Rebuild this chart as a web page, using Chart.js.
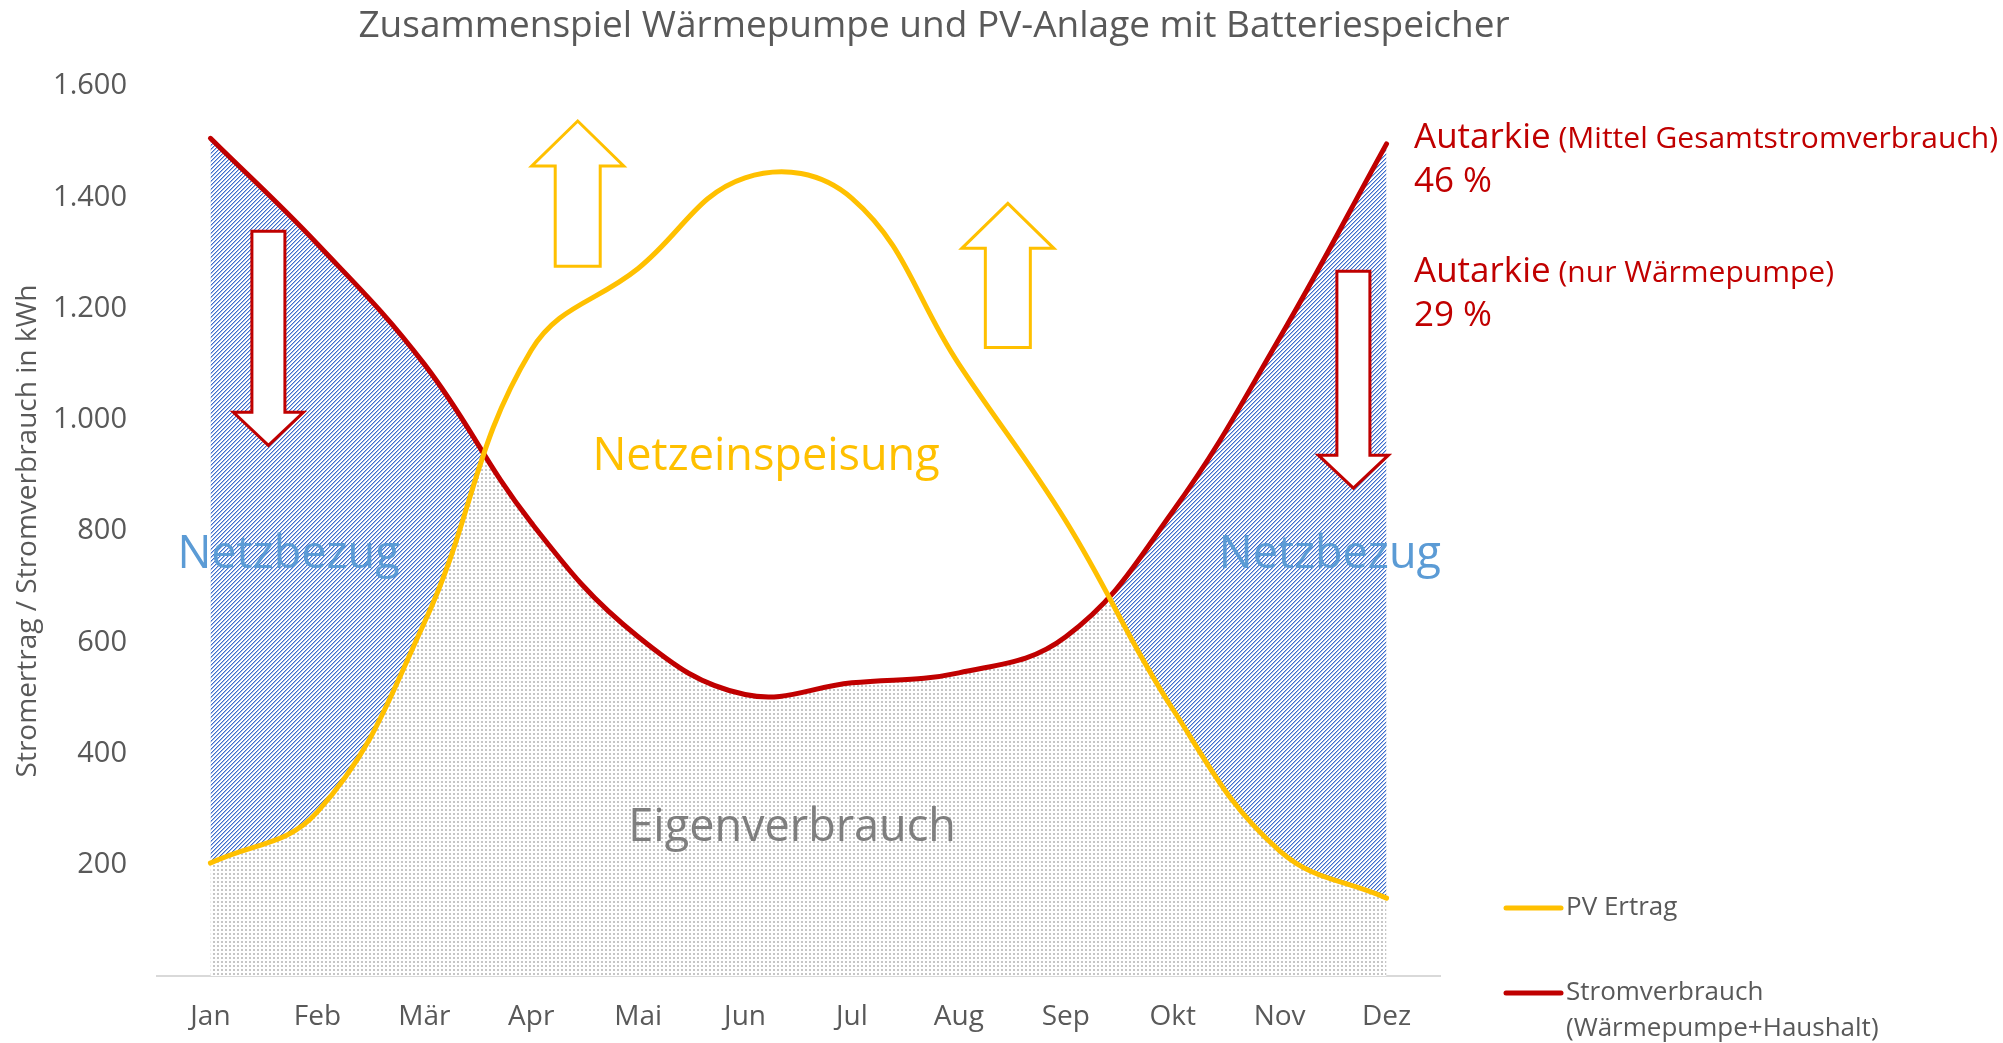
<!DOCTYPE html>
<html><head><meta charset="utf-8">
<script src="https://cdn.jsdelivr.net/npm/chart.js@4.4.1/dist/chart.umd.min.js"></script>
<style>html,body{margin:0;padding:0;background:#fff;overflow:hidden}#wrap{width:2003px;height:1043px}</style>
</head><body><div id="wrap"><canvas id="c" width="2003" height="1043"></canvas></div>
<script>
// ---- data ----
const months = ['Jan','Feb','Mär','Apr','Mai','Jun','Jul','Aug','Sep','Okt','Nov','Dez'];
const pvErtrag = [203, 295, 635, 1125, 1272, 1435, 1398, 1100, 818, 480, 225, 140];
const stromverbrauch = [1506, 1316, 1100, 815, 610, 506, 527, 545, 610, 835, 1147, 1496];
const seriesLabels = ['PV Ertrag', 'Stromverbrauch (Wärmepumpe+Haushalt)'];
const legendLines = [['PV Ertrag'], ['Stromverbrauch', '(Wärmepumpe+Haushalt)']];
const titleText = 'Zusammenspiel Wärmepumpe und PV-Anlage mit Batteriespeicher';
const yAxisTitle = 'Stromertrag / Stromverbrauch in kWh';
const yMin = 0, yMax = 1600, yStep = 200;
// area labels: [text, category position, value, colour]
const areaLabels = [
  ['Netzeinspeisung', 5.196, 933, '#FFC000'],
  ['Eigenverbrauch', 5.44, 266, '#7F7F7F'],
  ['Netzbezug', 0.73, 757, '#5B9BD5'],
  ['Netzbezug', 10.47, 757, '#5B9BD5']
];
// arrows: [category position, base value, tip value, colour]
const arrows = [
  [0.542, 1339, 954, '#C00000'],
  [10.69, 1267, 877, '#C00000'],
  [3.435, 1276, 1537, '#FFC000'],
  [7.458, 1130, 1389, '#FFC000']
];
const autarkie = [
  ['Autarkie', ' (Mittel Gesamtstromverbrauch)', '46 %'],
  ['Autarkie', ' (nur Wärmepumpe)', '29 %']
];

const FONT = "'Open Sans', sans-serif";
const YELLOW = '#FFC000', RED = '#C00000', GREY = '#595959';

const canvas = document.getElementById('c');
const ctx0 = canvas.getContext('2d');

function makePattern(size, draw) {
  const c = document.createElement('canvas');
  c.width = size; c.height = size;
  const g = c.getContext('2d');
  draw(g);
  return ctx0.createPattern(c, 'repeat');
}
const hatch = makePattern(4, g => {
  g.fillStyle = '#ffffff'; g.fillRect(0, 0, 4, 4);
  for (let k = 0; k < 4; k++) {
    g.fillStyle = '#3E6DCB'; g.fillRect(k, 3 - k, 1, 1);
    g.fillStyle = '#A3BBEA'; g.fillRect(k, (4 - k) % 4, 1, 1);
  }
});
const dots = makePattern(4, g => {
  g.fillStyle = '#ffffff'; g.fillRect(0, 0, 4, 4);
  g.fillStyle = '#c6c6c6'; g.fillRect(1, 1, 2, 2);
});

function drawArrow(ctx, cx, yBase, yTip, shaftW, headW, headL, color) {
  const dir = Math.sign(yTip - yBase);
  const yHead = yTip - dir * headL;
  ctx.beginPath();
  ctx.moveTo(cx - shaftW / 2, yBase);
  ctx.lineTo(cx + shaftW / 2, yBase);
  ctx.lineTo(cx + shaftW / 2, yHead);
  ctx.lineTo(cx + headW / 2, yHead);
  ctx.lineTo(cx, yTip);
  ctx.lineTo(cx - headW / 2, yHead);
  ctx.lineTo(cx - shaftW / 2, yHead);
  ctx.closePath();
  ctx.fillStyle = '#ffffff';
  ctx.fill();
  ctx.lineWidth = 3;
  ctx.lineJoin = 'miter';
  ctx.strokeStyle = color;
  ctx.stroke();
}

const overlay = {
  id: 'overlay',
  afterDatasetsDraw(chart) {
    const { ctx, scales: { x, y } } = chart;
    const step = x.getPixelForValue(1) - x.getPixelForValue(0);
    const px = i => x.getPixelForValue(0) + i * step;
    ctx.save();
    arrows.forEach(([pos, from, to, col]) => {
      const up = to > from;
      if (up) drawArrow(ctx, px(pos), y.getPixelForValue(from), y.getPixelForValue(to), 45, 92, 45, col);
      else drawArrow(ctx, px(pos), y.getPixelForValue(from), y.getPixelForValue(to), 33, 70, 33, col);
    });
    ctx.textAlign = 'center';
    ctx.textBaseline = 'middle';
    ctx.font = `45px ${FONT}`;
    areaLabels.forEach(([t, pos, v, col]) => {
      ctx.fillStyle = col;
      ctx.fillText(t, px(pos), y.getPixelForValue(v));
    });
    ctx.restore();
  },
  afterDraw(chart) {
    const { ctx, chartArea: ca } = chart;
    ctx.save();
    ctx.fillStyle = GREY;
    ctx.textAlign = 'center';
    ctx.textBaseline = 'alphabetic';
    ctx.font = `37px ${FONT}`;
    ctx.fillText(titleText, 934, 37);
    ctx.textAlign = 'left';
    ctx.fillStyle = RED;
    const ax = ca.right - 26;
    autarkie.forEach(([big, small, pct], i) => {
      const base = 148 + i * 134;
      ctx.font = `35px ${FONT}`;
      ctx.fillText(big, ax, base);
      const w = ctx.measureText(big).width;
      ctx.font = `30px ${FONT}`;
      ctx.fillText(small, ax + w, base);
      ctx.font = `35px ${FONT}`;
      ctx.fillText(pct, ax, base + 44);
    });
    const ds = chart.data.datasets;
    const lx = 1506, lw = 55;
    const ly = [908, 993];
    ctx.font = `26px ${FONT}`;
    ctx.textBaseline = 'middle';
    ds.forEach((d, i) => {
      ctx.strokeStyle = d.borderColor;
      ctx.lineWidth = 5;
      ctx.lineCap = 'round';
      ctx.beginPath();
      ctx.moveTo(lx, ly[i]); ctx.lineTo(lx + lw, ly[i]); ctx.stroke();
      ctx.fillStyle = GREY;
      legendLines[i].forEach((t, k) => ctx.fillText(t, lx + lw + 5, ly[i] + k * 36));
    });
    ctx.restore();
  }
};

new Chart(canvas, {
  type: 'line',
  data: {
    labels: months,
    datasets: [
      {
        label: seriesLabels[0], data: pvErtrag,
        borderColor: YELLOW, borderWidth: 5, borderCapStyle: 'round',
        pointRadius: 0, tension: 0.4,
        fill: { target: 1, above: 'rgba(255,255,255,0)', below: hatch }
      },
      {
        label: seriesLabels[1], data: stromverbrauch,
        borderColor: RED, borderWidth: 5, borderCapStyle: 'round',
        pointRadius: 0, tension: 0.4,
        backgroundColor: dots, fill: 'origin'
      }
    ]
  },
  options: {
    responsive: false, animation: false, devicePixelRatio: 1,
    locale: 'de-DE',
    layout: { padding: { left: 0, right: 563, top: 86, bottom: 0 } },
    plugins: {
      legend: { display: false }, title: { display: false }, tooltip: { enabled: false },
      filler: { drawTime: 'beforeDatasetsDraw' }
    },
    scales: {
      x: {
        offset: true,
        grid: { display: false, drawTicks: false },
        border: { display: true, color: '#D9D9D9', width: 2 },
        ticks: { color: GREY, font: { size: 28, family: FONT }, padding: 24 },
        afterFit(s) { s.height = 67; }
      },
      y: {
        min: yMin, max: yMax,
        grid: { display: false, drawTicks: false },
        border: { display: false },
        ticks: {
          stepSize: yStep, color: GREY, font: { size: 29, family: FONT }, padding: 30,
          callback: v => v === 0 ? '' : v.toLocaleString('de-DE')
        },
        title: { display: true, text: yAxisTitle, color: GREY, font: { size: 28, family: FONT }, padding: { top: 11, bottom: 0 } },
        afterFit(s) { s.width = 157; }
      }
    }
  },
  plugins: [overlay]
});
</script></body></html>
